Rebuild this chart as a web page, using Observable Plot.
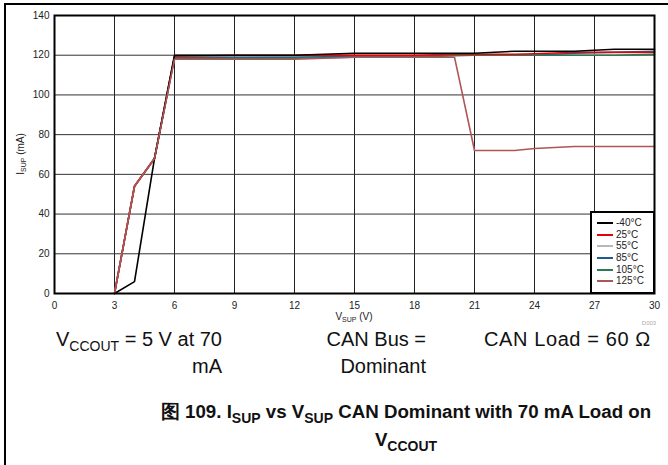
<!DOCTYPE html>
<html>
<head>
<meta charset="utf-8">
<script src="https://cdn.jsdelivr.net/npm/d3@7"></script>
<script src="https://cdn.jsdelivr.net/npm/@observablehq/plot@0.6"></script>
<style>
  html, body { margin: 0; padding: 0; background: #fff; }
  #wrap { position: relative; width: 668px; height: 465px; overflow: hidden; font-family: Arial, "Liberation Sans", sans-serif; }
  #border { position: absolute; left: 4px; top: 3px; width: 700px; height: 500px; border: 2px solid #000; box-sizing: border-box; }
  #chart { position: absolute; left: 0; top: 0; }
  #legend { position: absolute; left: 590px; top: 211px; width: 65px; height: 83px; border: 2px solid #000; box-sizing: border-box; background: #fff; font-size: 10px; color: #222; padding-top: 4px; }
  #legend .row { height: 11.7px; line-height: 11.7px; position: relative; white-space: nowrap; }
  #legend .sw { position: absolute; left: 5px; top: 5px; width: 16px; height: 2px; }
  #legend .lb { position: absolute; left: 24px; top: 0; }
  .note { position: absolute; font-size: 20px; color: #111; line-height: 27px; white-space: nowrap; }
  .note sub { font-size: 14px; vertical-align: -5px; line-height: 0; }
  .cap { position: absolute; font-size: 18.7px; font-weight: bold; color: #111; white-space: nowrap; line-height: 28px; }
  .cap sub { font-size: 14px; vertical-align: -5px; line-height: 0; }
</style>
</head>
<body>
<div id="wrap">
  <div id="border"></div>
  <div id="chart"></div>
  <div id="legend"></div>
  <div class="note" style="right:446px; top:326px; text-align:right;">V<sub>CCOUT</sub> = 5 V at 70<br>mA</div>
  <div class="note" style="right:242px; top:326px; text-align:right;">CAN Bus =<br>Dominant</div>
  <div class="note" style="left:484px; top:326px; letter-spacing:0.6px;">CAN Load = 60 Ω</div>
  <div class="cap" style="left:0; width:812px; top:398px; text-align:center;">图 109. I<sub>SUP</sub> vs V<sub>SUP</sub> CAN Dominant with 70 mA Load on<br>V<sub>CCOUT</sub></div>
</div>
<script>
// ---- data ----
const vsup = [3, 4, 5, 6, 9, 12, 15, 18, 20, 21, 23, 24, 26, 28, 30];
const temps = ["-40°C", "25°C", "55°C", "85°C", "105°C", "125°C"];
const colors = ["#000000", "#e8000b", "#b8b8b8", "#1f5c8c", "#2e7a50", "#b05555"];
const isupM40 = [0, 6, 68, 120, 120, 120, 121, 121, 121, 121, 122, 122, 122, 123, 123];
const isup25  = [0, 54, 68, 119.5, 120, 120, 120, 120, 120.5, 120.5, 120.5, 120.7, 121.5, 121.5, 121.5];
const isup55  = [0, 54, 68, 119, 119, 119.3, 119.5, 119.5, 120, 120, 120, 120, 120.3, 120.5, 120.5];
const isup85  = [0, 54, 68, 119, 119, 119, 119.5, 119.5, 120, 120, 120, 120, 121, 121.5, 122];
const isup105 = [0, 54, 68, 118.5, 118.5, 118.5, 119, 119, 119.8, 120, 120, 120, 120, 120, 120.5];
const isup125 = [0, 54, 68, 118, 118, 118, 119, 119, 119, 72, 72, 73, 74, 74, 74];
const xTicks = [0, 3, 6, 9, 12, 15, 18, 21, 24, 27, 30];
const yTicks = [0, 20, 40, 60, 80, 100, 120, 140];

const seriesValues = {"-40°C": isupM40, "25°C": isup25, "55°C": isup55, "85°C": isup85, "105°C": isup105, "125°C": isup125};
const drawOrder = ["55°C", "85°C", "105°C", "25°C", "-40°C", "125°C"];
const rows = [];
for (const t of drawOrder) seriesValues[t].forEach((v, i) => rows.push({t, v: vsup[i], i: v}));

const chart = Plot.plot({
  width: 668,
  height: 330,
  marginLeft: 54,
  marginRight: 14,
  marginTop: 15,
  marginBottom: 37,
  style: {fontFamily: "Arial, 'Liberation Sans', sans-serif", fontSize: "10px", color: "#222", background: "transparent"},
  x: {domain: [0, 30]},
  y: {domain: [0, 140]},
  color: {domain: temps, range: colors},
  marks: [
    Plot.gridX(xTicks, {stroke: "#222", strokeOpacity: 1, strokeWidth: 1}),
    Plot.gridY(yTicks, {stroke: "#333", strokeOpacity: 1, strokeWidth: 1}),
    Plot.axisX(xTicks, {tickSize: 0, tickPadding: 8, label: null}),
    Plot.axisY(yTicks, {tickSize: 0, tickPadding: 5, label: null}),
    Plot.line(rows, {x: "v", y: "i", z: "t", stroke: "t", strokeWidth: 1.6}),
    Plot.frame({stroke: "#000", strokeWidth: 2})
  ]
});
document.getElementById("chart").appendChild(chart);

// axis labels with subscripts
const svg = d3.select(chart);
const xs = chart.scale("x"), ys = chart.scale("y");
const xl = svg.append("text").attr("x", xs.apply(15)).attr("y", 320)
  .attr("text-anchor", "middle").attr("font-size", 10).attr("fill", "#222");
xl.append("tspan").text("V");
xl.append("tspan").attr("font-size", 7).attr("dy", 2).text("SUP");
xl.append("tspan").attr("dy", -2).text(" (V)");
const yl = svg.append("text").attr("transform", `translate(24,${ys.apply(70)}) rotate(-90)`)
  .attr("text-anchor", "middle").attr("font-size", 10).attr("fill", "#222");
yl.append("tspan").text("I");
yl.append("tspan").attr("font-size", 7).attr("dy", 2).text("SUP");
yl.append("tspan").attr("dy", -2).text(" (mA)");
svg.append("text").attr("x", 649).attr("y", 325).attr("font-size", 6).attr("fill", "#aaa").text("D003");

// legend
const leg = document.getElementById("legend");
temps.forEach((t, k) => {
  const r = document.createElement("div");
  r.className = "row";
  r.innerHTML = `<span class="sw" style="background:${colors[k]}"></span><span class="lb">${t}</span>`;
  leg.appendChild(r);
});
</script>
</body>
</html>
